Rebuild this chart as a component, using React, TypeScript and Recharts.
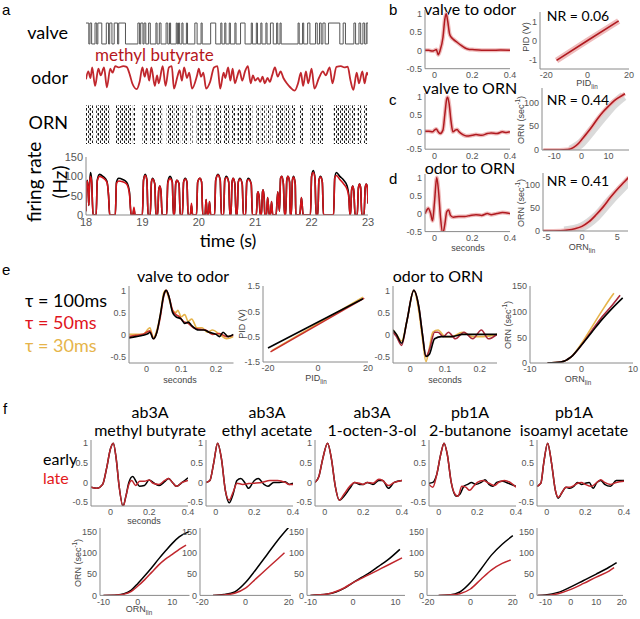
import React from 'react';
import { ComposedChart, Line, Area, XAxis, YAxis } from 'recharts';

type Pt = [number, number];
type Box = [number, number, number, number];

// ---- panel a ----
const valveOn = [18.0, 18.07, 18.16, 18.21, 18.36, 18.42, 18.5, 18.58, 18.92, 18.97, 19.03, 19.11, 19.24, 19.3, 19.42, 19.48, 19.6, 19.64, 19.7, 19.78, 19.93, 20.04, 20.21, 20.39, 20.46, 20.54, 20.64, 20.74, 20.93, 21.02, 21.1, 21.19, 21.27, 21.38, 21.44, 21.76, 21.84, 21.93, 22.07, 22.14, 22.2, 22.3, 22.56, 22.75, 22.84, 22.91, 22.97];
const valveOff = [18.05, 18.1, 18.19, 18.28, 18.4, 18.46, 18.56, 18.7, 18.95, 19.01, 19.06, 19.14, 19.26, 19.33, 19.45, 19.5, 19.62, 19.66, 19.72, 19.8, 19.97, 20.06, 20.3, 20.41, 20.48, 20.56, 20.66, 20.82, 20.95, 21.04, 21.12, 21.21, 21.32, 21.4, 21.46, 21.78, 21.86, 21.97, 22.1, 22.17, 22.24, 22.5, 22.6, 22.78, 22.87, 22.94, 23.0];

const odorPts: Pt[] = [
  [18.0, 0.45], [18.04, 0.75], [18.08, 0.5], [18.11, 0.9], [18.16, 0.2], [18.22, 0.85], [18.26, 0.6], [18.32, 0.9],
  [18.37, 0.15], [18.43, 0.85], [18.47, 0.7], [18.52, 0.95], [18.58, 0.9], [18.66, 0.95], [18.72, 0.92], [18.78, 0.6],
  [18.82, 0.3], [18.9, 0.08], [18.95, 0.35], [19.0, 0.9], [19.04, 0.55], [19.08, 0.85], [19.12, 0.4], [19.16, 0.9],
  [19.22, 0.2], [19.26, 0.6], [19.29, 0.3], [19.36, 0.95], [19.41, 0.2], [19.47, 0.9], [19.52, 0.95], [19.56, 0.1],
  [19.62, 0.55], [19.66, 0.8], [19.7, 0.4], [19.74, 0.9], [19.79, 0.5], [19.83, 0.7], [19.88, 0.1], [19.97, 0.6],
  [20.0, 0.85], [20.04, 0.55], [20.08, 0.7], [20.13, 0.1], [20.2, 0.35], [20.27, 0.9], [20.33, 0.95], [20.38, 0.1],
  [20.44, 0.7], [20.47, 0.5], [20.52, 0.9], [20.56, 0.4], [20.6, 0.85], [20.64, 0.3], [20.68, 0.55], [20.72, 0.8],
  [20.77, 0.4], [20.82, 0.75], [20.87, 0.95], [20.92, 0.3], [20.96, 0.6], [21.0, 0.4], [21.05, 0.5], [21.09, 0.35],
  [21.13, 0.55], [21.17, 0.3], [21.22, 0.5], [21.26, 0.35], [21.3, 0.6], [21.35, 0.9], [21.4, 0.55], [21.45, 0.75],
  [21.5, 0.5], [21.56, 0.3], [21.62, 0.15], [21.7, 0.02], [21.76, 0.3], [21.81, 0.7], [21.85, 0.2], [21.9, 0.75],
  [21.94, 0.3], [22.0, 0.85], [22.05, 0.1], [22.13, 0.5], [22.2, 0.75], [22.25, 0.6], [22.32, 0.9], [22.37, 0.3],
  [22.44, 0.92], [22.52, 0.95], [22.58, 0.9], [22.64, 0.93], [22.69, 0.4], [22.74, 0.05], [22.8, 0.7], [22.84, 0.3],
  [22.9, 0.75], [22.94, 0.3], [22.98, 0.7], [23.0, 0.6],
];

const rasterOn = [18.0, 18.18, 18.52, 18.83, 19.0, 19.14, 19.27, 19.43, 19.57, 19.71, 19.85, 19.96, 20.11, 20.28, 20.44, 20.57, 20.68, 20.83, 21.02, 21.11, 21.2, 21.27, 21.37, 21.54, 21.64, 21.79, 21.98, 22.11, 22.39, 22.69, 22.81, 22.93];
const rasterOff = [18.13, 18.42, 18.8, 18.87, 19.1, 19.24, 19.35, 19.55, 19.67, 19.81, 19.89, 20.07, 20.21, 20.4, 20.55, 20.66, 20.79, 20.95, 21.09, 21.17, 21.25, 21.31, 21.52, 21.62, 21.72, 21.85, 22.08, 22.21, 22.68, 22.77, 22.89, 23.0];

const fireObs: Pt[] = [
  [18.0, 10], [18.01, 80], [18.025, 90], [18.04, 60], [18.05, 25], [18.06, 70], [18.08, 110], [18.1, 90], [18.125, 0],
  [18.18, 0], [18.2, 90], [18.24, 105], [18.3, 100], [18.37, 88], [18.4, 50], [18.42, 0],
  [18.52, 0], [18.54, 85], [18.58, 95], [18.65, 92], [18.72, 85], [18.77, 60], [18.8, 0],
  [18.83, 0], [18.85, 15], [18.87, 0],
  [19.0, 0], [19.02, 90], [19.05, 105], [19.08, 90], [19.1, 0],
  [19.14, 0], [19.16, 85], [19.18, 95], [19.22, 80], [19.24, 0],
  [19.27, 0], [19.29, 65], [19.31, 75], [19.33, 60], [19.35, 0],
  [19.43, 0], [19.45, 85], [19.49, 100], [19.53, 85], [19.55, 0],
  [19.57, 0], [19.59, 80], [19.61, 90], [19.65, 80], [19.67, 0],
  [19.71, 0], [19.73, 85], [19.76, 95], [19.79, 85], [19.81, 0],
  [19.85, 0], [19.87, 25], [19.89, 0],
  [19.96, 0], [19.98, 85], [20.02, 95], [20.05, 85], [20.07, 0],
  [20.11, 0], [20.13, 40], [20.15, 0], [20.17, 0], [20.19, 35], [20.21, 0],
  [20.28, 0], [20.3, 90], [20.34, 105], [20.38, 90], [20.4, 0],
  [20.44, 0], [20.46, 90], [20.49, 100], [20.53, 85], [20.55, 0],
  [20.57, 0], [20.59, 85], [20.61, 95], [20.64, 80], [20.66, 0],
  [20.68, 0], [20.7, 85], [20.73, 95], [20.77, 80], [20.79, 0],
  [20.83, 0], [20.85, 85], [20.88, 95], [20.93, 80], [20.95, 0],
  [21.02, 0], [21.04, 55], [21.05, 60], [21.07, 45], [21.09, 0],
  [21.11, 0], [21.13, 60], [21.14, 65], [21.16, 40], [21.17, 0],
  [21.2, 0], [21.22, 45], [21.25, 0], [21.27, 0], [21.29, 35], [21.31, 0],
  [21.37, 0], [21.4, 60], [21.43, 10], [21.45, 95], [21.47, 100], [21.5, 80], [21.52, 0],
  [21.54, 0], [21.56, 90], [21.58, 100], [21.61, 85], [21.62, 0],
  [21.64, 0], [21.66, 90], [21.68, 100], [21.71, 80], [21.72, 0],
  [21.79, 0], [21.82, 45], [21.85, 0],
  [21.98, 0], [22.0, 100], [22.03, 115], [22.06, 95], [22.08, 0],
  [22.11, 0], [22.13, 90], [22.16, 100], [22.19, 85], [22.21, 0],
  [22.39, 0], [22.41, 95], [22.44, 110], [22.5, 100], [22.57, 90], [22.63, 75], [22.66, 50], [22.68, 0],
  [22.69, 0], [22.71, 65], [22.73, 75], [22.75, 60], [22.77, 0],
  [22.81, 0], [22.83, 70], [22.85, 80], [22.87, 70], [22.89, 0],
  [22.93, 0], [22.95, 70], [22.97, 80], [22.99, 70], [23.0, 30],
];

const firePred: Pt[] = [
  [18.0, 10], [18.01, 80], [18.025, 88], [18.04, 60], [18.05, 25], [18.06, 70], [18.08, 100], [18.1, 85], [18.125, 0],
  [18.18, 0], [18.2, 88], [18.24, 100], [18.3, 96], [18.37, 85], [18.4, 50], [18.42, 0],
  [18.52, 0], [18.54, 82], [18.58, 88], [18.65, 86], [18.72, 80], [18.77, 55], [18.8, 0],
  [18.83, 0], [18.85, 20], [18.87, 0],
  [19.0, 0], [19.02, 90], [19.05, 102], [19.08, 90], [19.1, 0],
  [19.14, 0], [19.16, 85], [19.18, 93], [19.22, 80], [19.24, 0],
  [19.27, 0], [19.29, 65], [19.31, 75], [19.33, 60], [19.35, 0],
  [19.43, 0], [19.45, 82], [19.49, 94], [19.53, 85], [19.55, 0],
  [19.57, 0], [19.59, 80], [19.61, 90], [19.65, 80], [19.67, 0],
  [19.71, 0], [19.73, 85], [19.76, 93], [19.79, 85], [19.81, 0],
  [19.85, 0], [19.87, 30], [19.89, 0],
  [19.96, 0], [19.98, 85], [20.02, 95], [20.05, 85], [20.07, 0],
  [20.11, 0], [20.13, 40], [20.15, 0], [20.17, 0], [20.19, 35], [20.21, 0],
  [20.28, 0], [20.3, 90], [20.34, 103], [20.38, 90], [20.4, 0],
  [20.44, 0], [20.46, 90], [20.49, 97], [20.53, 85], [20.55, 0],
  [20.57, 0], [20.59, 85], [20.61, 95], [20.64, 80], [20.66, 0],
  [20.68, 0], [20.7, 85], [20.73, 93], [20.77, 80], [20.79, 0],
  [20.83, 0], [20.85, 85], [20.88, 92], [20.93, 80], [20.95, 0],
  [21.02, 0], [21.04, 55], [21.05, 60], [21.07, 45], [21.09, 0],
  [21.11, 0], [21.13, 60], [21.14, 65], [21.16, 40], [21.17, 0],
  [21.2, 0], [21.22, 45], [21.25, 0], [21.27, 0], [21.29, 35], [21.31, 0],
  [21.37, 0], [21.4, 60], [21.43, 10], [21.45, 95], [21.47, 100], [21.5, 80], [21.52, 0],
  [21.54, 0], [21.56, 90], [21.58, 100], [21.61, 85], [21.62, 0],
  [21.64, 0], [21.66, 90], [21.68, 98], [21.71, 80], [21.72, 0],
  [21.79, 0], [21.82, 45], [21.85, 0],
  [21.98, 0], [22.0, 100], [22.03, 110], [22.06, 95], [22.08, 0],
  [22.11, 0], [22.13, 90], [22.16, 98], [22.19, 85], [22.21, 0],
  [22.39, 0], [22.41, 95], [22.44, 102], [22.5, 92], [22.57, 80], [22.63, 66], [22.66, 45], [22.68, 0],
  [22.69, 0], [22.71, 65], [22.73, 75], [22.75, 60], [22.77, 0],
  [22.81, 0], [22.83, 70], [22.85, 80], [22.87, 70], [22.89, 0],
  [22.93, 0], [22.95, 70], [22.97, 80], [22.99, 70], [23.0, 30],
];

// ---- panels b-d ----
const bFilter: Pt[] = [[-0.05, 0], [-0.03, 0], [-0.01, -0.02], [0.0, 0], [0.01, 0.02], [0.02, -0.12], [0.03, 0.0], [0.045, 0.35], [0.055, 0.85], [0.062, 1.0], [0.07, 0.8], [0.08, 0.45], [0.09, 0.35], [0.1, 0.3], [0.12, 0.22], [0.14, 0.14], [0.16, 0.07], [0.18, 0.03], [0.2, 0.02], [0.25, 0], [0.3, 0], [0.35, 0.01], [0.4, 0]];
const bFit: Pt[] = [[-15, -1.05], [0, 0], [15, 1.03]];
const cFilter: Pt[] = [[-0.05, 0.02], [-0.03, 0.02], [-0.01, 0], [0.0, 0.05], [0.01, 0.08], [0.02, 0], [0.03, -0.05], [0.045, 0.05], [0.055, 0.5], [0.065, 0.95], [0.07, 1.0], [0.078, 0.8], [0.088, 0.3], [0.098, 0], [0.11, 0.05], [0.12, 0.07], [0.13, 0], [0.15, -0.08], [0.17, -0.12], [0.2, -0.1], [0.22, -0.08], [0.25, -0.1], [0.28, -0.05], [0.3, -0.03], [0.33, -0.05], [0.36, 0], [0.38, -0.02], [0.4, 0]];
const cFit: Pt[] = [[-14, 0], [-8, 0], [-5, 1], [-3, 5], [-1, 14], [0, 21], [2, 35], [4, 50], [6, 66], [8, 80], [10, 92], [12, 103], [14, 111], [16, 118]];
const cCloud: Pt[] = [[-4, 0], [0, 15], [4, 42], [8, 70], [12, 96], [15.5, 113]];
const dFilter: Pt[] = [[-0.05, 0], [-0.04, 0.1], [-0.033, 0.15], [-0.02, 0], [-0.01, -0.2], [0.0, 0.3], [0.012, 1.0], [0.022, 0.6], [0.032, -0.1], [0.044, -0.55], [0.055, -0.3], [0.065, 0.05], [0.075, 0.1], [0.085, -0.05], [0.1, -0.1], [0.13, -0.08], [0.16, -0.08], [0.19, -0.05], [0.22, -0.03], [0.25, -0.05], [0.28, 0], [0.3, -0.03], [0.33, 0], [0.36, 0.03], [0.4, 0]];
const dFit: Pt[] = [[-5.5, 0], [-3, 0.5], [-2, 2], [-1, 5], [0, 10], [1, 20], [2, 35], [3, 52], [4, 72], [5, 90], [6, 106], [6.6, 116]];
const dCloud: Pt[] = [[-2.5, 0], [0, 9], [2, 31], [4, 66], [6, 98], [6.6, 108]];

// ---- panel e ----
const eOdor100: Pt[] = [[-0.05, -0.08], [-0.03, -0.05], [-0.01, -0.02], [0.005, 0.02], [0.01, 0.05], [0.02, -0.1], [0.03, 0.05], [0.04, 0.45], [0.05, 0.9], [0.057, 1.0], [0.065, 0.85], [0.075, 0.5], [0.085, 0.4], [0.1, 0.35], [0.11, 0.25], [0.12, 0.28], [0.13, 0.2], [0.15, 0.1], [0.165, 0.1], [0.18, 0.05], [0.2, 0], [0.21, -0.05], [0.22, 0.05], [0.235, -0.05], [0.25, 0]];
const eOdor50: Pt[] = [[-0.05, -0.05], [-0.03, -0.02], [-0.01, 0], [0.01, 0.08], [0.02, -0.1], [0.03, 0.05], [0.04, 0.4], [0.05, 0.88], [0.057, 1.0], [0.065, 0.85], [0.075, 0.55], [0.085, 0.45], [0.095, 0.4], [0.105, 0.3], [0.12, 0.25], [0.135, 0.15], [0.15, 0.12], [0.17, 0.1], [0.19, 0], [0.21, 0.02], [0.23, -0.05], [0.25, -0.02]];
const eOdor30: Pt[] = [[-0.05, 0], [-0.03, 0], [-0.01, 0], [0.01, 0.15], [0.02, -0.08], [0.03, 0.1], [0.04, 0.45], [0.05, 0.95], [0.055, 1.0], [0.065, 0.8], [0.075, 0.55], [0.085, 0.5], [0.09, 0.55], [0.1, 0.4], [0.11, 0.45], [0.12, 0.3], [0.13, 0.35], [0.145, 0.15], [0.16, 0.15], [0.175, 0.05], [0.19, 0.1], [0.21, 0], [0.23, -0.1], [0.25, -0.05]];
const ePid100: Pt[] = [[-20, -0.95], [18, 1.0]];
const ePid50: Pt[] = [[-19, -1.1], [18.5, 1.02]];
const ePid30: Pt[] = [[-18.5, -1.05], [18, 1.06]];
const eOrn100: Pt[] = [[-0.05, 0.1], [-0.04, 0], [-0.025, -0.2], [-0.01, 0.3], [0.01, 1.0], [0.025, 0.6], [0.035, 0], [0.045, -0.5], [0.055, -0.45], [0.07, -0.1], [0.09, -0.05], [0.12, -0.05], [0.15, 0], [0.18, 0], [0.21, 0], [0.25, 0]];
const eOrn50: Pt[] = [[-0.05, 0.05], [-0.04, -0.05], [-0.025, -0.25], [-0.01, 0.3], [0.01, 1.0], [0.025, 0.6], [0.035, 0], [0.045, -0.5], [0.055, -0.35], [0.07, 0.05], [0.08, 0.05], [0.095, -0.05], [0.11, 0.05], [0.13, -0.1], [0.155, 0.05], [0.18, -0.1], [0.205, 0.1], [0.225, -0.1], [0.25, 0]];
const eOrn30: Pt[] = [[-0.05, 0.1], [-0.04, 0], [-0.025, -0.15], [-0.01, 0.3], [0.01, 1.0], [0.025, 0.5], [0.035, -0.1], [0.045, -0.62], [0.055, -0.3], [0.065, 0.05], [0.08, 0.1], [0.1, -0.05], [0.12, -0.05], [0.15, 0.05], [0.18, -0.05], [0.21, -0.05], [0.25, 0]];
const eNl100: Pt[] = [[-6.6, 0], [-4, 2], [-2, 12], [0, 35], [2, 60], [4, 85], [6, 107], [8, 127]];
const eNl50: Pt[] = [[-6.6, 0], [-4, 2], [-2, 12], [0, 35], [2, 63], [4, 90], [6, 113], [7.5, 132]];
const eNl30: Pt[] = [[-6.6, 0], [-4, 2], [-2, 12], [0, 38], [2, 70], [4, 102], [6, 132], [6.3, 136]];

// ---- panel f ----
const fTitles = ['ab3A', 'ab3A', 'ab3A', 'pb1A', 'pb1A'];
const fOdors = ['methyl butyrate', 'ethyl acetate', '1-octen-3-ol', '2-butanone', 'isoamyl  acetate'];
const fEarly: Pt[][] = [
  [[-0.1, -0.12], [-0.07, -0.15], [-0.04, -0.05], [-0.02, 0.35], [0, 0.85], [0.015, 1.0], [0.03, 0.6], [0.045, -0.1], [0.065, -0.6], [0.08, -0.35], [0.095, 0], [0.115, 0.15], [0.135, 0], [0.15, -0.1], [0.175, -0.08], [0.2, 0.06], [0.22, 0], [0.25, -0.08], [0.28, 0.02], [0.3, 0.1], [0.32, 0], [0.34, -0.1], [0.37, 0], [0.4, 0.12]],
  [[-0.05, 0], [-0.03, 0.05], [-0.01, 0.5], [0.01, 1.0], [0.03, 0.6], [0.05, -0.2], [0.07, -0.52], [0.09, -0.3], [0.11, 0.05], [0.13, 0.1], [0.15, 0], [0.17, -0.15], [0.2, 0.05], [0.22, 0.1], [0.25, -0.05], [0.27, -0.1], [0.3, 0], [0.33, 0], [0.36, 0.02], [0.38, -0.05], [0.4, -0.02]],
  [[-0.05, 0], [-0.03, 0.15], [-0.01, 0.6], [0.015, 1.0], [0.035, 0.6], [0.055, -0.1], [0.075, -0.45], [0.1, -0.35], [0.13, -0.15], [0.155, 0], [0.18, -0.05], [0.2, -0.05], [0.22, 0], [0.25, -0.05], [0.28, 0.05], [0.3, 0.05], [0.33, -0.15], [0.36, 0], [0.4, 0.05]],
  [[-0.05, -0.02], [-0.03, 0], [-0.01, 0.2], [0.01, 0.7], [0.028, 1.0], [0.045, 0.7], [0.065, 0], [0.09, -0.35], [0.11, -0.3], [0.13, -0.1], [0.15, -0.05], [0.17, 0], [0.19, -0.05], [0.22, 0], [0.24, 0.07], [0.26, -0.05], [0.28, -0.1], [0.3, 0], [0.33, 0.03], [0.36, -0.02], [0.4, -0.1]],
  [[-0.05, -0.1], [-0.03, -0.02], [-0.015, 0.5], [0.005, 1.0], [0.025, 0.5], [0.045, -0.2], [0.06, -0.4], [0.08, -0.25], [0.1, -0.12], [0.12, -0.15], [0.14, -0.1], [0.16, 0], [0.18, -0.05], [0.2, -0.02], [0.22, 0], [0.24, -0.15], [0.26, 0], [0.28, 0.05], [0.3, -0.05], [0.33, -0.1], [0.36, 0.05], [0.4, 0.05]],
];
const fLate: Pt[][] = [
  [[-0.1, -0.12], [-0.07, -0.15], [-0.04, -0.05], [-0.02, 0.35], [0, 0.85], [0.015, 1.0], [0.03, 0.6], [0.045, -0.1], [0.065, -0.62], [0.08, -0.35], [0.095, -0.05], [0.11, 0.05], [0.13, -0.08], [0.15, 0.03], [0.175, 0.03], [0.2, 0.06], [0.22, -0.02], [0.25, -0.05], [0.28, 0.05], [0.3, 0.1], [0.32, 0], [0.34, -0.1], [0.37, 0], [0.4, 0.05]],
  [[-0.05, 0], [-0.03, 0.05], [-0.01, 0.5], [0.01, 1.0], [0.03, 0.6], [0.05, -0.2], [0.07, -0.45], [0.09, -0.25], [0.11, -0.02], [0.14, -0.05], [0.17, -0.03], [0.2, -0.02], [0.24, 0], [0.28, 0.05], [0.32, 0.05], [0.36, 0], [0.38, -0.05], [0.4, -0.05]],
  [[-0.05, 0], [-0.03, 0.15], [-0.01, 0.6], [0.015, 1.0], [0.035, 0.6], [0.055, -0.1], [0.075, -0.45], [0.1, -0.3], [0.13, -0.1], [0.155, 0], [0.18, -0.02], [0.2, -0.05], [0.22, 0], [0.25, -0.02], [0.28, 0.08], [0.3, 0.05], [0.33, -0.08], [0.36, 0], [0.4, 0.05]],
  [[-0.05, -0.05], [-0.03, -0.12], [-0.01, 0.2], [0.01, 0.7], [0.028, 1.0], [0.045, 0.7], [0.065, 0], [0.085, -0.3], [0.1, -0.35], [0.12, -0.1], [0.14, -0.12], [0.16, -0.2], [0.18, -0.1], [0.2, 0], [0.23, 0.05], [0.26, -0.02], [0.29, -0.08], [0.31, 0], [0.34, 0.05], [0.37, 0], [0.4, -0.12]],
  [[-0.05, -0.1], [-0.03, -0.02], [-0.015, 0.5], [0.005, 1.0], [0.025, 0.5], [0.045, -0.2], [0.06, -0.38], [0.08, -0.25], [0.1, -0.12], [0.12, -0.12], [0.14, -0.08], [0.16, -0.02], [0.18, 0], [0.2, -0.05], [0.23, -0.1], [0.26, 0], [0.28, 0.07], [0.3, 0], [0.33, -0.05], [0.36, 0], [0.4, 0.03]],
];
const fNlEarly: Pt[][] = [
  [[-10, 0], [-6, 1], [-4, 4], [-2, 12], [0, 28], [2, 46], [4, 65], [6, 85], [8, 104], [10, 122], [12, 137], [15, 150]],
  [[-15, 0], [-10, 2], [-5, 8], [0, 30], [5, 62], [10, 96], [15, 130], [20, 160]],
  [[-10, 0], [-6, 3], [-4, 8], [-2, 17], [0, 30], [2, 42], [4, 54], [6, 68], [8, 82], [11, 108]],
  [[-15, 0], [-10, 1], [-5, 8], [0, 30], [5, 62], [10, 95], [15, 120], [20, 140]],
  [[-13, 0], [-10, 1], [-5, 7], [0, 20], [5, 35], [10, 50], [15, 66], [18, 77]],
];
const fNlLate: Pt[][] = [
  [[-10, 0], [-6, 1], [-4, 3], [-2, 9], [0, 22], [2, 37], [4, 54], [6, 71], [8, 85], [10, 96], [12, 108], [14, 118]],
  [[-15, 0], [-10, 1], [-5, 5], [0, 17], [5, 40], [10, 63], [15, 86], [18, 100]],
  [[-10, 0], [-6, 3], [-4, 9], [-2, 18], [0, 30], [2, 40], [4, 50], [6, 60], [8, 70], [11.5, 88]],
  [[-15, 0], [-10, 1], [-5, 4], [0, 15], [5, 38], [10, 60], [15, 75], [19, 83]],
  [[-13, 0], [-10, 0], [-5, 4], [0, 14], [5, 28], [10, 43], [15, 57], [17, 65]],
];

const fTopBox: Box[] = [[91, 440, 188, 506], [206, 440, 293, 506], [315, 440, 402, 506], [429, 440, 516, 506], [537, 440, 624, 506]];
const fTopX: [number, number][] = [[-0.1, 0.4], [-0.05, 0.4], [-0.05, 0.4], [-0.05, 0.4], [-0.05, 0.4]];
const fBotBox: Box[] = [[99.5, 527.6, 189, 595], [200, 527.6, 291, 595], [307, 527.6, 405, 595], [427, 527.6, 516, 595], [537, 527.6, 623, 595]];
const fBotX: [number, number][] = [[-11, 15], [-21, 21], [-10.8, 12.2], [-20.5, 21.5], [-13.3, 20.5]];
const fBotTicks = [[-10, 0, 10], [-20, 0, 20], [-10, 0, 10], [-20, 0, 20], [-10, 0, 10, 20]];
const fTitleX = [150, 267, 372, 470, 574];

const AX = '#8a8a8a';
const SANS = '"Liberation Sans", Arial, sans-serif';
const CAL = 'Lato, "Noto Sans", sans-serif';
const RED = '#c0272d';
const DRED = '#b01a20';
const PINK = '#efbcbc';
const YEL = '#e6b44a';

interface S { pts: Pt[]; color: string; w: number; curve?: 'monotone' | 'linear' | 'stepAfter' }

function Plot({ box, xd, yd, xt, yt, series = [], font = 9, axes = true, data, children }: {
  box: Box; xd: [number, number]; yd: [number, number]; xt?: number[]; yt?: number[];
  series?: S[]; font?: number; axes?: boolean; data?: any[]; children?: React.ReactNode;
}) {
  const [x0, y0, x1, y1] = box;
  const YW = axes ? 30 : 0;
  const XH = axes ? 18 : 0;
  const MT = axes ? 7 : 2;
  const MR = axes ? 12 : 2;
  const w = x1 - x0 + YW + MR;
  const h = y1 - y0 + MT + XH;
  const tick = { fontSize: font, fill: '#555', fontFamily: SANS };
  return (
    <div style={{ position: 'absolute', left: x0 - YW, top: y0 - MT }}>
      <ComposedChart width={w} height={h} data={data} margin={{ top: MT, right: MR, bottom: 0, left: 0 }}>
        <XAxis type="number" dataKey="x" domain={xd} ticks={xt} allowDataOverflow hide={!axes} height={XH}
          axisLine={{ stroke: AX }} tickLine={false} tickSize={0} tickMargin={3} tick={tick} interval={0} />
        <YAxis type="number" domain={yd} ticks={yt} allowDataOverflow hide={!axes} width={YW}
          axisLine={{ stroke: AX }} tickLine={false} tickSize={0} tickMargin={3} tick={tick} interval={0} />
        {children}
        {series.map((s, i) => (
          <Line key={i} data={s.pts.map(([x, y]) => ({ x, y }))} dataKey="y" type={s.curve ?? 'monotone'}
            stroke={s.color} strokeWidth={s.w} dot={false} isAnimationActive={false} />
        ))}
      </ComposedChart>
    </div>
  );
}

function T({ x, y, s = 16, c = '#000', f = CAL, a = 'c', children }: {
  x: number; y: number; s?: number; c?: string; f?: string; a?: 'c' | 'l' | 'r'; children: React.ReactNode;
}) {
  const tr = a === 'c' ? 'translate(-50%,-50%)' : a === 'l' ? 'translate(0,-50%)' : 'translate(-100%,-50%)';
  return (
    <div style={{ position: 'absolute', left: x, top: y, transform: tr, fontSize: s, color: c, fontFamily: f, whiteSpace: 'nowrap', lineHeight: 1 }}>
      {children}
    </div>
  );
}

function R({ x, y, s = 9, c = '#444', f = SANS, children }: {
  x: number; y: number; s?: number; c?: string; f?: string; children: React.ReactNode;
}) {
  return (
    <div style={{ position: 'absolute', left: x, top: y, transform: 'translate(-50%,-50%) rotate(-90deg)', fontSize: s, color: c, fontFamily: f, whiteSpace: 'nowrap', lineHeight: 1 }}>
      {children}
    </div>
  );
}

const OrnLab = () => <span>ORN (sec<sup style={{ fontSize: '0.7em' }}>-1</sup>)</span>;
const Lin = ({ v }: { v: string }) => <span>{v}<sub style={{ fontSize: '0.7em' }}>lin</sub></span>;

export default function App() {
  const valvePts: Pt[] = [];
  valveOn.forEach((t, i) => { valvePts.push([t, 1]); valvePts.push([valveOff[i], 0]); });
  const rasterData: { x: number; v: number }[] = [];
  rasterOn.forEach((t, i) => { rasterData.push({ x: t, v: 1 }); rasterData.push({ x: rasterOff[i], v: 0 }); });

  const filt = [-0.5, 0, 0.5, 1];

  return (
    <div style={{ position: 'absolute', left: 0, top: 0, width: 640, height: 619, background: '#fff', overflow: 'hidden' }}>
      {/* panel letters */}
      <T x={2} y={9} s={15} f={SANS} a="l">a</T>
      <T x={389} y={9} s={15} f={SANS} a="l">b</T>
      <T x={389} y={99} s={15} f={SANS} a="l">c</T>
      <T x={389} y={178} s={15} f={SANS} a="l">d</T>
      <T x={2} y={269} s={15} f={SANS} a="l">e</T>
      <T x={3} y={408} s={15} f={SANS} a="l">f</T>

      {/* panel a */}
      <T x={68} y={32} s={18} a="r">valve</T>
      <T x={68} y={77} s={18} a="r">odor</T>
      <T x={68} y={122} s={18} a="r">ORN</T>
      <T x={95} y={54} s={17} c="#b5161c" a="l">methyl butyrate</T>
      <Plot box={[86, 22, 368, 45]} xd={[18, 23]} yd={[-0.05, 1.05]} axes={false}
        series={[{ pts: valvePts, color: '#555', w: 1, curve: 'stepAfter' }]} />
      <Plot box={[86, 64, 368, 92]} xd={[18, 23]} yd={[-0.03, 1.03]} axes={false}
        series={[{ pts: odorPts, color: RED, w: 1.8 }]} />
      <Plot box={[86, 105, 368, 144]} xd={[18, 23]} yd={[0, 1]} axes={false} data={rasterData}>
        <defs>
          <pattern id="spikes" width="4" height="5" patternUnits="userSpaceOnUse">
            <rect x="0" y="0" width="1" height="2.6" fill="#111" />
            <rect x="2" y="2.5" width="1" height="2.5" fill="#1a1a1a" />
            <rect x="3" y="0.3" width="0.7" height="1.8" fill="#555" />
          </pattern>
        </defs>
        <Area dataKey="v" type="stepAfter" stroke="none" fill="url(#spikes)" fillOpacity={1} isAnimationActive={false} />
      </Plot>
      <Plot box={[86, 157, 368, 215]} xd={[18, 23]} yd={[0, 150]} xt={[18, 19, 20, 21, 22, 23]} yt={[0, 50, 100, 150]} font={11}
        series={[{ pts: fireObs, color: '#000', w: 1.6 }, { pts: firePred, color: '#d3141a', w: 1.6 }]} />
      <R x={33} y={182} s={19} c="#000" f={CAL}>firing rate</R>
      <R x={59} y={182} s={19} c="#000" f={CAL}>(Hz)</R>
      <T x={228} y={240} s={18}>time (s)</T>

      {/* panels b-d */}
      <T x={470} y={9} s={16}>valve to odor</T>
      <T x={470} y={88} s={16}>valve to ORN</T>
      <T x={470} y={168} s={16}>odor to ORN</T>
      <Plot box={[425, 10.3, 510, 69]} xd={[-0.05, 0.4]} yd={[-0.5, 1.1]} xt={[0, 0.2, 0.4]} yt={filt}
        series={[{ pts: bFilter, color: PINK, w: 4 }, { pts: bFilter, color: DRED, w: 1.5 }]} />
      <Plot box={[540, 11.5, 629, 68.5]} xd={[-23, 20]} yd={[-1.5, 1.5]} xt={[-20, 0, 20]} yt={[-1, 0, 1]}
        series={[{ pts: bFit, color: PINK, w: 6, curve: 'linear' }, { pts: bFit, color: DRED, w: 1.6, curve: 'linear' }]} />
      <T x={578} y={16} s={14}>NR = 0.06</T>
      <R x={526} y={37}>PID (V)</R>
      <T x={587} y={85} s={9} c="#444" f={SANS}><Lin v="PID" /></T>

      <Plot box={[425, 92.8, 510, 149]} xd={[-0.05, 0.4]} yd={[-0.5, 1.12]} xt={[0, 0.2, 0.4]} yt={filt}
        series={[{ pts: cFilter, color: PINK, w: 4 }, { pts: cFilter, color: DRED, w: 1.5 }]} />
      <Plot box={[542, 88, 629, 150]} xd={[-14.5, 17.5]} yd={[0, 130]} xt={[-10, 0, 10]} yt={[0, 50, 100]}
        series={[{ pts: cCloud, color: '#dadada', w: 9 }, { pts: cFit, color: PINK, w: 4 }, { pts: cFit, color: DRED, w: 1.6 }]} />
      <T x={578} y={100} s={14}>NR = 0.44</T>
      <R x={520} y={120}><OrnLab /></R>

      <Plot box={[425, 174.4, 510, 232]} xd={[-0.05, 0.4]} yd={[-0.5, 1.1]} xt={[0, 0.2, 0.4]} yt={filt}
        series={[{ pts: dFilter, color: PINK, w: 4 }, { pts: dFilter, color: DRED, w: 1.5 }]} />
      <Plot box={[543, 173, 628, 231]} xd={[-5.5, 6.5]} yd={[0, 125]} xt={[-5, 0, 5]} yt={[0, 50, 100]}
        series={[{ pts: dCloud, color: '#dadada', w: 9 }, { pts: dFit, color: PINK, w: 4 }, { pts: dFit, color: DRED, w: 1.6 }]} />
      <T x={578} y={181} s={14}>NR = 0.41</T>
      <R x={520} y={203}><OrnLab /></R>
      <T x={468} y={248} s={9} c="#444" f={SANS}>seconds</T>
      <T x={582} y={249} s={9} c="#444" f={SANS}><Lin v="ORN" /></T>

      {/* panel e */}
      <T x={25} y={300} s={18} a="l">τ = 100ms</T>
      <T x={25} y={322} s={18} c="#e0141c" a="l">τ = 50ms</T>
      <T x={25} y={345} s={18} c={YEL} a="l">τ = 30ms</T>
      <T x={183} y={276} s={16}>valve to odor</T>
      <T x={438} y={276} s={16}>odor to ORN</T>
      <Plot box={[129, 285.6, 233.5, 362.6]} xd={[-0.05, 0.25]} yd={[-0.65, 1.1]} xt={[0, 0.1, 0.2]} yt={filt}
        series={[{ pts: eOdor30, color: YEL, w: 1.6 }, { pts: eOdor50, color: '#c9302c', w: 1.6 }, { pts: eOdor100, color: '#000', w: 1.6 }]} />
      <Plot box={[263, 286, 368, 362]} xd={[-22, 20]} yd={[-1.5, 1.5]} xt={[-20, 0, 20]} yt={[-1.5, -0.5, 0.5, 1.5]}
        series={[{ pts: ePid30, color: YEL, w: 1.6, curve: 'linear' }, { pts: ePid50, color: '#c9302c', w: 1.6, curve: 'linear' }, { pts: ePid100, color: '#000', w: 1.6, curve: 'linear' }]} />
      <Plot box={[393, 285.6, 497, 362.6]} xd={[-0.05, 0.25]} yd={[-0.65, 1.1]} xt={[0, 0.1, 0.2]} yt={filt}
        series={[{ pts: eOrn30, color: YEL, w: 1.6 }, { pts: eOrn50, color: '#a8283a', w: 1.6 }, { pts: eOrn100, color: '#000', w: 1.6 }]} />
      <Plot box={[530, 286, 633, 363]} xd={[-10, 10]} yd={[0, 150]} xt={[-10, 0, 10]} yt={[0, 50, 100, 150]}
        series={[{ pts: eNl30, color: YEL, w: 1.6 }, { pts: eNl50, color: '#a8283a', w: 1.6 }, { pts: eNl100, color: '#000', w: 1.6 }]} />
      <T x={180} y={380} s={9} c="#444" f={SANS}>seconds</T>
      <R x={242} y={324}>PID (V)</R>
      <T x={316} y={380} s={9} c="#444" f={SANS}><Lin v="PID" /></T>
      <T x={445} y={380} s={9} c="#444" f={SANS}>seconds</T>
      <R x={507} y={325}><OrnLab /></R>
      <T x={578} y={381} s={9} c="#444" f={SANS}><Lin v="ORN" /></T>

      {/* panel f */}
      <T x={43} y={459} s={16} a="l">early</T>
      <T x={43} y={478} s={16} c="#e31a1c" a="l">late</T>
      {fTitles.map((t, i) => (
        <React.Fragment key={i}>
          <T x={fTitleX[i]} y={412} s={16}>{t}</T>
          <T x={fTitleX[i]} y={430} s={16}>{fOdors[i]}</T>
          <Plot box={fTopBox[i]} xd={fTopX[i]} yd={[-0.6, 1.08]} xt={[0, 0.2, 0.4]} yt={filt}
            series={[{ pts: fEarly[i], color: '#000', w: 1.5 }, { pts: fLate[i], color: RED, w: 1.5 }]} />
          <Plot box={fBotBox[i]} xd={fBotX[i]} yd={[0, 158]} xt={fBotTicks[i]} yt={[0, 50, 100, 150]}
            series={[{ pts: fNlEarly[i], color: '#000', w: 1.5 }, { pts: fNlLate[i], color: RED, w: 1.5 }]} />
        </React.Fragment>
      ))}
      <T x={144} y={521} s={9} c="#444" f={SANS}>seconds</T>
      <R x={77} y={563}><OrnLab /></R>
      <T x={139} y={611} s={9} c="#444" f={SANS}><Lin v="ORN" /></T>
    </div>
  );
}
